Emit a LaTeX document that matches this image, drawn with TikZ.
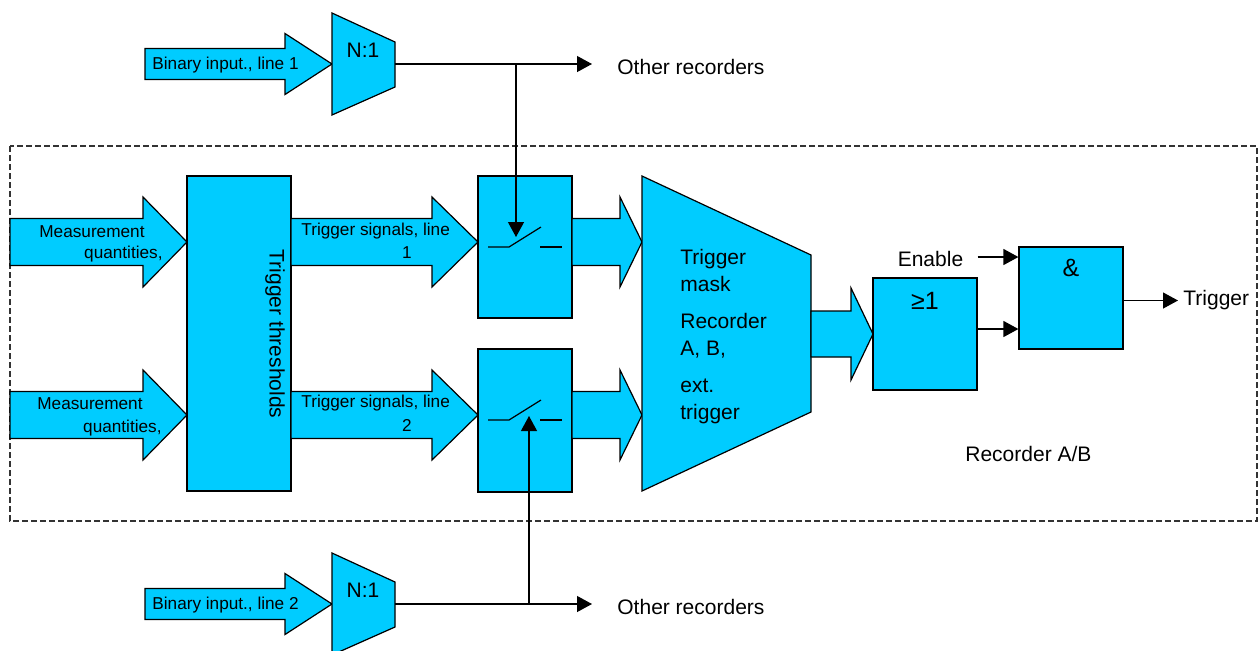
\documentclass[tikz,border=0pt]{standalone}
\usepackage{fontspec}
\setmainfont{Liberation Sans}
\usepackage{tikz}
\usetikzlibrary{arrows.meta, positioning}
\definecolor{blockcyan}{RGB}{0,204,255}
\tikzstyle{block} = [rectangle, draw=black, fill=blockcyan, line width=0.6pt, inner sep=0pt]
\tikzstyle{shapefill} = [draw=black, fill=blockcyan, line width=0.6pt, line join=miter]
\tikzstyle{wire} = [line width=0.6pt, -{Triangle[length=7.5pt,width=8pt]}]
\tikzstyle{plain} = [line width=0.6pt]
\tikzstyle{frame} = [line width=0.6pt, dash pattern=on 3pt off 1.5pt, black!80]
\tikzstyle{lbl} = [inner sep=0pt, font=\fontsize{10.5}{13.5}\selectfont]
\tikzstyle{smalllbl} = [inner sep=0pt, font=\fontsize{8.6}{10}\selectfont]
\tikzstyle{gatelbl} = [inner sep=0pt, font=\fontsize{12.5}{14}\selectfont]

% block arrow: tail x, neck x, tip x, centre y, half body, half head
\newcommand{\blockarrow}[6]{%
  \draw[shapefill] (#1,#4-#5) -- (#2,#4-#5) -- (#2,#4-#6) -- (#3,#4)
    -- (#2,#4+#6) -- (#2,#4+#5) -- (#1,#4+#5) -- cycle;}

\begin{document}
\begin{tikzpicture}[x=0.5pt, y=-0.5pt]
    \useasboundingbox (0,0) rectangle (1260,650);

    % Recorder frame
    \draw[frame] (10,146) rectangle (1257,521);
    \node[lbl, anchor=base west] (rectxt) at (965,461) {Recorder A/B};

    % Binary inputs and N:1 selectors
    \blockarrow{145}{285}{332}{64}{15.5}{30.5}
    \node[smalllbl, anchor=base west] (bin1txt) at (152,69) {Binary input., line 1};
    \draw[shapefill] (332,13) -- (395,42) -- (395,87) -- (332,115) -- cycle;
    \node[lbl, anchor=base] (mux1txt) at (363,57) {N:1};
    \coordinate (mux1out) at (395,64);

    \blockarrow{145}{285}{332}{604}{15.5}{30.5}
    \node[smalllbl, anchor=base west] (bin2txt) at (152,609) {Binary input., line 2};
    \draw[shapefill] (332,553) -- (395,582) -- (395,627) -- (332,655) -- cycle;
    \node[lbl, anchor=base] (mux2txt) at (363,597) {N:1};
    \coordinate (mux2out) at (395,604);

    % Measurement quantities into the thresholds
    \blockarrow{10}{143}{187}{242}{23.5}{45}
    \node[smalllbl, anchor=base west] (meas1a) at (39,237) {Measurement};
    \node[smalllbl, anchor=base east] (meas1b) at (163,258) {quantities,};
    \blockarrow{10}{143}{187}{415}{23.5}{45}
    \node[smalllbl, anchor=base west] (meas2a) at (37,409) {Measurement};
    \node[smalllbl, anchor=base east] (meas2b) at (162,432) {quantities,};

    \node (thr) [block, minimum width=52pt, minimum height=157.5pt] at (239,333.5) {};
    \node[lbl, rotate=-90] (thrtxt) at (275,334) {Trigger thresholds};

    % Trigger signals into the switches
    \blockarrow{291}{432}{478}{242}{23.5}{45}
    \node[smalllbl, anchor=base west] (trig1a) at (301,235) {Trigger signals, line};
    \node[smalllbl, anchor=base] (trig1b) at (407,258) {1};
    \blockarrow{291}{432}{478}{415}{23.5}{45}
    \node[smalllbl, anchor=base west] (trig2a) at (301,407) {Trigger signals, line};
    \node[smalllbl, anchor=base] (trig2b) at (407,431) {2};

    \node (sw1) [block, minimum width=47pt, minimum height=71pt] at (525,247) {};
    \node (sw2) [block, minimum width=47pt, minimum height=71.5pt] at (525,420.5) {};
    \draw[plain] (488,247) -- (509,247) -- (541,227);
    \draw[plain] (540,247) -- (562,247);
    \draw[plain] (488,420) -- (509,420) -- (541,400);
    \draw[plain] (540,420) -- (562,420);

    % Switches into the trigger mask
    \blockarrow{572}{620}{642}{242}{23.5}{45}
    \blockarrow{572}{620}{642}{415}{23.5}{45}
    \draw[shapefill] (642,176) -- (811,255) -- (811,412) -- (642,491) -- cycle;
    \node[lbl, anchor=west, align=left] (masktxt) at (680,337)
        {Trigger\\mask\\[5pt]Recorder\\A, B,\\[5pt]ext.\\trigger};
    \blockarrow{811}{851}{873}{334}{23}{46}

    % Gates
    \node (orgate) [block, minimum width=52pt, minimum height=56pt] at (925,334) {};
    \node (orlbl) [gatelbl, below=7pt of orgate.north] {≥1};
    \node (andgate) [block, minimum width=52pt, minimum height=51pt] at (1071,298) {};
    \node (andlbl) [gatelbl, below=6pt of andgate.north] {\&};

    \node (enable) [lbl, inner xsep=7pt] at (930.5,259) {Enable};
    \node (trigout) [lbl, inner xsep=2.5pt, anchor=west] at (1178,300.5) {Trigger};
    \node (other1) [lbl, anchor=west] at (617,67) {Other recorders};
    \node (other2) [lbl, anchor=west] at (617,607) {Other recorders};

    % Signal wires
    \coordinate (tap1) at (516,64);
    \coordinate (lever1) at (516,237);
    \coordinate (tap2) at (529,604);
    \coordinate (lever2) at (529,416);
    \draw[wire, shorten >=12.5pt] (mux1out) -- (mux1out -| other1.west);
    \draw[wire, shorten >=12.5pt] (mux2out) -- (mux2out -| other2.west);
    \draw[wire] (tap1) -- (lever1);
    \draw[wire] (tap2) -- (lever2);
    \draw[wire] (enable.east |- 0,257) -- (andgate.west |- 0,257);
    \draw[wire] ([yshift=2.5pt]orgate.east) -- ([yshift=2.5pt]orgate.east -| andgate.west);
    \draw[wire] (andgate.east |- trigout.west) -- (trigout.west);
\end{tikzpicture}
\end{document}
